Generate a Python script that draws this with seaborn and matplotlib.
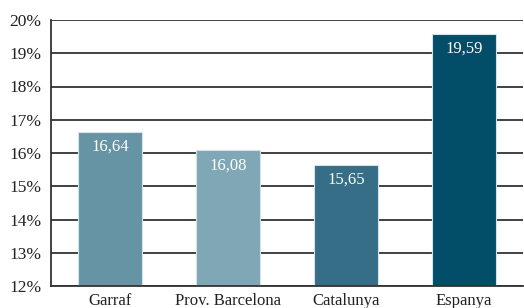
import matplotlib
matplotlib.use("Agg")
import matplotlib.pyplot as plt
import seaborn as sns
import pandas as pd
from matplotlib.ticker import FixedLocator

categories = ["Garraf", "Prov. Barcelona", "Catalunya", "Espanya"]
values = [16.64, 16.08, 15.65, 19.59]
colors = ["#6794a4", "#80a7b5", "#356e86", "#024d68"]
y_ticks = [12, 13, 14, 15, 16, 17, 18, 19, 20]

sns.set_style("white")
plt.rcParams["font.family"] = ["Liberation Serif", "DejaVu Serif"]

df = pd.DataFrame({"cat": categories, "val": values})

fig = plt.figure(figsize=(5.24, 3.08), dpi=100)
ax = fig.add_axes([51 / 524, 1 - 286 / 308, 472 / 524, 266 / 308])

sns.barplot(data=df, x="cat", y="val", hue="cat", palette=colors,
            saturation=1, width=0.55, edgecolor="#d4e3e8", linewidth=0.8,
            legend=False, ax=ax, zorder=2)

ax.set_ylim(12, 20)
ax.set_xlim(-0.5, len(categories) - 0.5)
ax.set_yticks(y_ticks)
ax.set_yticklabels([f"{t}%" for t in y_ticks], fontsize=12.5, color="#222222")
ax.yaxis.grid(True, color="#333333", linewidth=1.3, zorder=0)
ax.set_axisbelow(True)

ax.set_xticks(range(len(categories)))
ax.set_xticklabels(categories, fontsize=12, color="#222222")
ax.tick_params(axis="x", which="major", length=0, pad=5)
ax.xaxis.set_minor_locator(FixedLocator([0.5, 1.5, 2.5]))
ax.tick_params(axis="x", which="minor", length=4, width=1.2, color="#333333", direction="out")
ax.tick_params(axis="y", length=4, width=1.2, color="#333333", direction="out", pad=3)
ax.set_xlabel("")
ax.set_ylabel("")

for side in ["top", "right"]:
    ax.spines[side].set_visible(False)
for side in ["left", "bottom"]:
    ax.spines[side].set_color("#333333")
    ax.spines[side].set_linewidth(1.3)

for i, v in enumerate(values):
    ax.text(i, v - 0.45, f"{v:.2f}".replace(".", ","), ha="center", va="center",
            color="white", fontsize=12, zorder=3)

fig.savefig("out.png", dpi=100)
